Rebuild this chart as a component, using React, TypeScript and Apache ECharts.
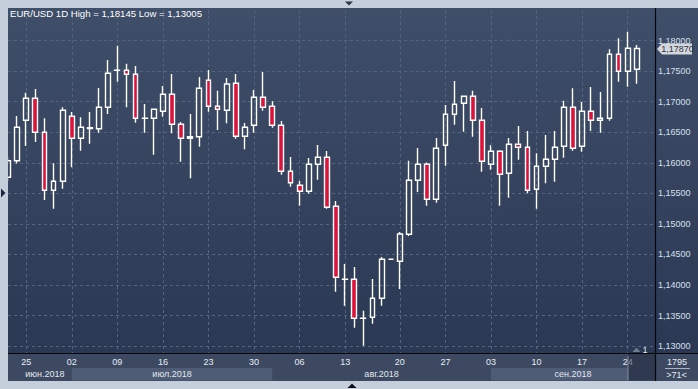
import React, { useEffect, useRef } from "react";
import * as echarts from "echarts";

const dates = [
  "2018-06-21", "2018-06-22", "2018-06-25", "2018-06-26", "2018-06-27", "2018-06-28", "2018-06-29",
  "2018-07-02", "2018-07-03", "2018-07-04", "2018-07-05", "2018-07-06",
  "2018-07-09", "2018-07-10", "2018-07-11", "2018-07-12", "2018-07-13",
  "2018-07-16", "2018-07-17", "2018-07-18", "2018-07-19", "2018-07-20",
  "2018-07-23", "2018-07-24", "2018-07-25", "2018-07-26", "2018-07-27",
  "2018-07-30", "2018-07-31", "2018-08-01", "2018-08-02", "2018-08-03",
  "2018-08-06", "2018-08-07", "2018-08-08", "2018-08-09", "2018-08-10",
  "2018-08-13", "2018-08-14", "2018-08-15", "2018-08-16", "2018-08-17", "2018-08-19",
  "2018-08-20", "2018-08-21", "2018-08-22", "2018-08-23", "2018-08-24",
  "2018-08-27", "2018-08-28", "2018-08-29", "2018-08-30", "2018-08-31",
  "2018-09-03", "2018-09-04", "2018-09-05", "2018-09-06", "2018-09-07",
  "2018-09-10", "2018-09-11", "2018-09-12", "2018-09-13", "2018-09-14",
  "2018-09-17", "2018-09-18", "2018-09-19", "2018-09-20", "2018-09-21",
  "2018-09-24", "2018-09-25", "2018-09-26", "2018-09-27",
];

const opens = [
  1.15763, 1.16034, 1.16696, 1.17056, 1.16499, 1.1555, 1.15697,
  1.16761, 1.16401, 1.16561, 1.16558, 1.16908,
  1.17514, 1.17514, 1.17448, 1.16728, 1.16728,
  1.16843, 1.17121, 1.1663, 1.16401, 1.16427,
  1.1735, 1.16925, 1.16859, 1.17301, 1.16434,
  1.16614, 1.17072, 1.16925, 1.16614, 1.15861,
  1.15632, 1.15534, 1.15975, 1.1609, 1.15288,
  1.14093, 1.14093, 1.13455, 1.13471, 1.13782, 1.14421,
  1.14388, 1.1483, 1.15714, 1.15975, 1.15403,
  1.16286, 1.16794, 1.16974, 1.17088, 1.16696,
  1.15975, 1.16188, 1.15828, 1.16303, 1.16254,
  1.15566, 1.15943, 1.16057, 1.1627, 1.16908,
  1.1627, 1.16843, 1.16696, 1.16728, 1.17776,
  1.17498, 1.1753,
];
const closes = [
  1.16034, 1.16581, 1.17056, 1.16499, 1.1555, 1.15697, 1.16859,
  1.16401, 1.16581, 1.16574, 1.16908, 1.17465,
  1.17516, 1.17448, 1.16728, 1.1673, 1.16876,
  1.17121, 1.1663, 1.16401, 1.16427, 1.17219,
  1.16925, 1.16876, 1.1729, 1.16434, 1.16581,
  1.17072, 1.16908, 1.16614, 1.15861, 1.15674,
  1.15534, 1.15975, 1.1609, 1.15272, 1.14126,
  1.14095, 1.13455, 1.13457, 1.13782, 1.14421, 1.14421,
  1.14835, 1.15714, 1.15975, 1.15403, 1.16237,
  1.16794, 1.16957, 1.17088, 1.16696, 1.16025,
  1.16188, 1.15812, 1.16303, 1.16254, 1.1555,
  1.15943, 1.16057, 1.16254, 1.16908, 1.16237,
  1.16843, 1.16696, 1.16728, 1.17776, 1.17498,
  1.17874, 1.1787,
];
const lows = [
  1.157, 1.15987, 1.16275, 1.1634, 1.15391, 1.15249, 1.15576,
  1.15926, 1.16198, 1.16313, 1.16493, 1.16799,
  1.17327, 1.16908, 1.16656, 1.16493, 1.16133,
  1.16755, 1.16483, 1.16018, 1.15746, 1.16264,
  1.16836, 1.16537, 1.16646, 1.16394, 1.16221,
  1.16493, 1.16853, 1.16574, 1.15805, 1.15609,
  1.15298, 1.15494, 1.15723, 1.15249, 1.1389,
  1.13661, 1.13301, 1.13005, 1.13367, 1.13661, 1.14421,
  1.13935, 1.14802, 1.15522, 1.15298, 1.15347,
  1.15953, 1.16624, 1.16509, 1.16427, 1.15854,
  1.15887, 1.15298, 1.15429, 1.16051, 1.15501,
  1.15249, 1.15664, 1.15691, 1.16083, 1.16198,
  1.16182, 1.1652, 1.16493, 1.16689, 1.17327,
  1.17246, 1.17295,
];
const highs = [
  1.161, 1.16766, 1.17147, 1.17208, 1.16728, 1.15992, 1.16908,
  1.16831, 1.16745, 1.16831, 1.17224, 1.17682,
  1.17917, 1.17622, 1.17584, 1.16962, 1.1688,
  1.17257, 1.17453, 1.16668, 1.16799, 1.17404,
  1.17519, 1.1718, 1.17388, 1.17453, 1.16651,
  1.17192, 1.17486, 1.17007, 1.16684, 1.16095,
  1.15702, 1.16079, 1.16291, 1.16193, 1.15375,
  1.14344, 1.14295, 1.13579, 1.14098, 1.14458, 1.14421,
  1.14867, 1.16034, 1.16242, 1.16003, 1.16406,
  1.16946, 1.17339, 1.1709, 1.1718, 1.16897,
  1.16286, 1.16205, 1.16406, 1.16602, 1.1652,
  1.16155, 1.16455, 1.1652, 1.17016, 1.17219,
  1.16995, 1.17241, 1.17159, 1.17858, 1.18038,
  1.18145, 1.17928,
];

const monthLabels = ["июн.2018", "июл.2018", "авг.2018", "сен.2018"];
const monthStarts = ["2018-07-02", "2018-08-01", "2018-09-03"];
const symbolName = "EUR/USD";
const periodName = "1D";
const lastPrice = 1.1787;
const barCount = "1795";
const scrollInfo = ">71<";

const fmt = (v: number) => v.toFixed(5).replace(".", ",");

export default function App() {
  const ref = useRef<HTMLDivElement>(null);
  useEffect(() => {
    document.body.style.margin = "0";
    const el = ref.current!;
    const chart = echarts.init(el, null, { renderer: "svg" });
    const FONT = "'Liberation Sans', Arial, sans-serif";
    const isMonday = (d: string) => new Date(d + "T00:00:00Z").getUTCDay() === 1;
    const showTick = (i: number) => isMonday(dates[i]);
    const data = dates.map((_, i) =>
      i < opens.length ? [opens[i], closes[i], lows[i], highs[i]] : "-"
    );
    const hi = Math.max(...highs);
    const lo = Math.min(...lows);
    const gridColor = "#56657f";

    chart.setOption({
      animation: false,
      backgroundColor: "#c5cfdb",
      title: {
        text: `${symbolName} ${periodName} High = ${fmt(hi)} Low = ${fmt(lo)}`,
        left: 10,
        top: 8.5,
        padding: 0,
        textStyle: { color: "#ffffff", fontSize: 9.6, fontWeight: "normal", fontFamily: FONT },
      },
      grid: { left: 8, right: 43, top: 10.1, bottom: 36, outerBoundsMode: "none" },
      xAxis: {
        type: "category",
        data: dates,
        boundaryGap: false,
        axisLine: { show: false },
        axisTick: { show: false },
        axisLabel: {
          interval: (i: number) => showTick(i),
          formatter: (v: string) => v.slice(8, 10),
          color: "#e6ecf4",
          fontSize: 9,
          fontFamily: FONT,
          margin: 4,
        },
        splitLine: {
          show: true,
          interval: (i: number) => showTick(i),
          lineStyle: { color: gridColor, type: [3, 3], width: 1 },
        },
      },
      yAxis: {
        type: "value",
        position: "right",
        min: 1.12887,
        max: 1.18499,
        splitNumber: 10,
        scale: true,
        axisLine: { show: false },
        axisTick: { show: false },
        axisLabel: {
          color: "#d6e0ee",
          fontSize: 9,
          fontFamily: FONT,
          margin: 3,
          formatter: (v: number) => (v < 1.1299 || v > 1.1801 ? "" : fmt(v)),
        },
        splitLine: {
          show: true,
          showMinLine: false,
          showMaxLine: false,
          lineStyle: { color: gridColor, type: [3, 3], width: 1 },
        },
      },
      series: [
        {
          type: "candlestick",
          data,
          barWidth: 5.3,
          itemStyle: {
            color: "rgba(0,0,0,0)",
            color0: "#dc143c",
            borderColor: "#ffffff",
            borderColor0: "#ffffff",
            borderColorDoji: "#ffffff",
            borderWidth: 1.4,
          },
          emphasis: { disabled: true },
        },
      ],
    });

    const px = (d: string) => chart.convertToPixel({ xAxisIndex: 0 }, d) as number;
    const yT = chart.convertToPixel({ yAxisIndex: 0 }, lastPrice) as number;
    const plotRight = 655;
    const boxLeft = 628;
    const mX = monthStarts.map(px);
    const bandY = 368;
    const bandH = 12.5;
    const monthCenters = [
      (8 + mX[0]) / 2 + 5,
      (mX[0] + mX[1]) / 2,
      (mX[1] + mX[2]) / 2,
      (mX[2] + plotRight) / 2,
    ];
    const txt = (x: number, y: number, t: string, fill: string, size = 9, align = "center") => ({
      type: "text",
      x,
      y,
      z: 60,
      style: { text: t, fill, fontSize: size, fontFamily: FONT, align, verticalAlign: "middle" },
    });

    chart.setOption({
      graphic: [
        {
          type: "rect",
          z: -10,
          shape: { x: 8, y: 8, width: 690, height: 345.5 },
          style: {
            fill: new echarts.graphic.LinearGradient(0, 0, 0, 1, [
              { offset: 0, color: "#3f4e69" },
              { offset: 1, color: "#2b3853" },
            ]),
          },
        },
        { type: "rect", z: -10, shape: { x: 8, y: 354, width: 690, height: 27 }, style: { fill: "#3c4961" } },
        { type: "rect", z: -9, shape: { x: mX[0], y: bandY, width: mX[1] - mX[0], height: bandH }, style: { fill: "#4e5c75" } },
        { type: "rect", z: -9, shape: { x: mX[2], y: bandY, width: boxLeft - mX[2], height: bandH }, style: { fill: "#4e5c75" } },
        { type: "rect", z: 50, shape: { x: 0, y: 0, width: 8, height: 389 }, style: { fill: "#c5cfdb" } },
        { type: "line", z: 55, shape: { x1: 8, y1: 353.5, x2: 698, y2: 353.5 }, style: { stroke: "#05070b", lineWidth: 1.2 } },
        { type: "line", z: 55, shape: { x1: 655.5, y1: 8, x2: 655.5, y2: 381 }, style: { stroke: "#05070b", lineWidth: 1.2 } },
        { type: "rect", z: 52, shape: { x: boxLeft, y: 352, width: 27, height: 28.5 }, style: { fill: "rgba(34,44,64,0.5)" } },
        { type: "line", z: 53, shape: { x1: boxLeft, y1: 356, x2: boxLeft, y2: 380.5 }, style: { stroke: "#7f8a9c", lineWidth: 1 } },
        { type: "polygon", z: 53, shape: { points: [[632.5, 352], [636.5, 347.5], [640.5, 352]] }, style: { fill: "#6f7a8e" } },
        txt(645, 349.5, "1", "#dfe6ef", 9),
        ...monthLabels.map((m, i) => txt(monthCenters[i], 374.2, m, "#e2e8f0", 9)),
        txt(677, 361.5, barCount, "#e6ecf4", 9),
        { type: "line", z: 60, shape: { x1: 665, y1: 368.5, x2: 690, y2: 368.5 }, style: { stroke: "#a9b3c1", lineWidth: 1 } },
        txt(676.5, 374.8, scrollInfo, "#e6ecf4", 9),
        {
          type: "polygon",
          z: 60,
          shape: { points: [[657, yT + 0.5], [662, yT - 5], [692, yT - 5], [692, yT + 6], [662, yT + 6]] },
          style: { fill: "#d3d8de" },
        },
        txt(677.5, yT + 0.8, fmt(lastPrice), "#2f3338", 9),
        { type: "polygon", z: 60, shape: { points: [[345, 1.5], [353, 1.5], [349, 5.5]] }, style: { fill: "#2e3644" } },
        { type: "polygon", z: 60, shape: { points: [[347.5, 388], [356.5, 388], [352, 383.5]] }, style: { fill: "#0e1116" } },
        { type: "polygon", z: 60, shape: { points: [[1, 188.5], [1, 197.5], [5.5, 193]] }, style: { fill: "#1c2741" } },
      ],
    });

    return () => chart.dispose();
  }, []);
  return <div ref={ref} style={{ width: 698, height: 389 }} />;
}
